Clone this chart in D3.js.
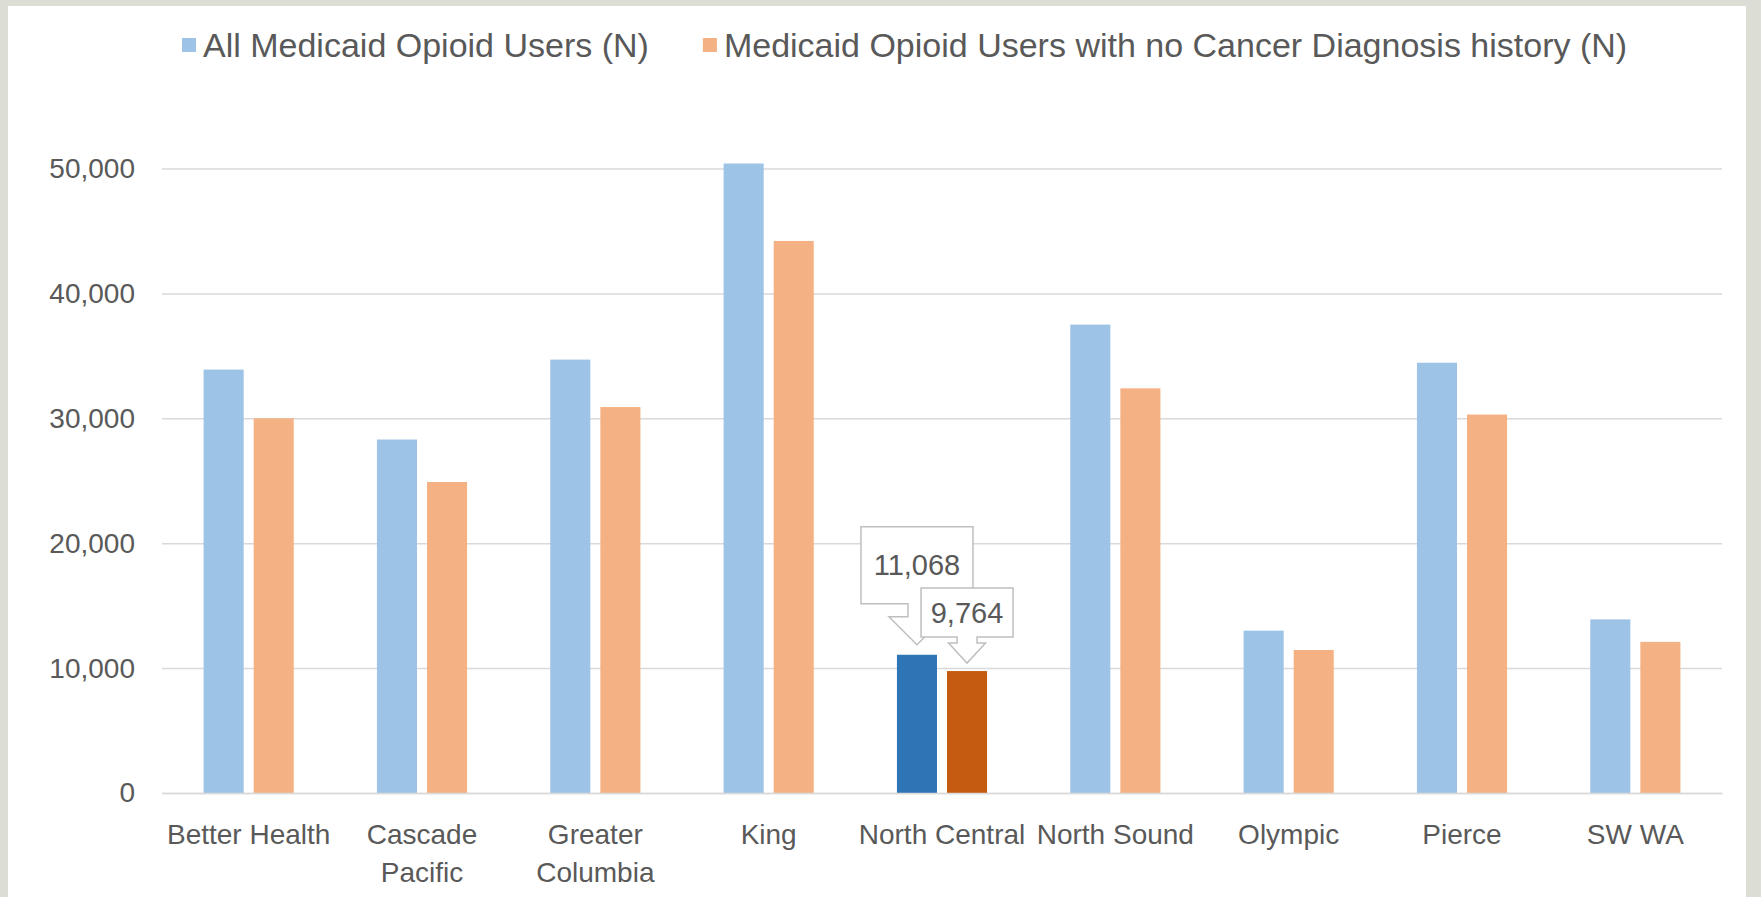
<!DOCTYPE html>
<html>
<head>
<meta charset="utf-8">
<script src="https://cdn.jsdelivr.net/npm/d3@7"></script>
<style>
  body { margin: 0; background: #dcddd4; }
  svg { display: block; }
  text { font-family: "Liberation Sans", Arial, sans-serif; fill: #595959; }
</style>
</head>
<body>
<svg id="chart"></svg>
<script>
// DATA
const categories = ["Better Health", "Cascade Pacific", "Greater Columbia", "King", "North Central", "North Sound", "Olympic", "Pierce", "SW WA"];
const seriesNames = ["All Medicaid Opioid Users (N)", "Medicaid Opioid Users with no Cancer Diagnosis history (N)"];
const allUsers = [33900, 28300, 34700, 50400, 11068, 37500, 13000, 34450, 13900];
const noCancerUsers = [30000, 24900, 30900, 44200, 9764, 32400, 11450, 30300, 12100];
const yTicks = [0, 10000, 20000, 30000, 40000, 50000];
const highlightCategory = "North Central";

const seriesValues = [allUsers, noCancerUsers];
const colors = ["#9dc3e6", "#f4b183"];
const highlightColors = ["#2e75b6", "#c55a11"];

// SIZES
const W = 1761, H = 897;
const plot = { left: 162, right: 1722, top: 168.5, bottom: 793 };

const svg = d3.select("#chart")
    .attr("width", W)
    .attr("height", H);

// white panel inside the grey frame
svg.append("rect")
    .attr("x", 8).attr("y", 6)
    .attr("width", 1738).attr("height", H - 6)
    .attr("fill", "#ffffff");

// SCALES
const x0 = d3.scaleBand()
    .domain(categories)
    .range([plot.left, plot.right])
    .paddingInner(0.48)
    .paddingOuter(0.24);

const x1 = d3.scaleBand()
    .domain([0, 1])
    .range([0, x0.bandwidth()])
    .paddingInner(0.2);

const y = d3.scaleLinear()
    .domain([0, 50000])
    .range([plot.bottom, plot.top]);

// Y AXIS + GRIDLINES
const yAxis = svg.append("g")
    .attr("transform", `translate(${plot.left},0)`)
    .call(d3.axisLeft(y)
        .tickValues(yTicks)
        .tickFormat(d3.format(","))
        .tickSize(-(plot.right - plot.left))
        .tickPadding(27));

yAxis.select(".domain").remove();
yAxis.selectAll(".tick line")
    .attr("stroke", "#d9d9d9")
    .attr("stroke-width", 1.5);
yAxis.selectAll(".tick text")
    .style("font-size", "28px")
    .attr("fill", "#595959");

// BARS
const groups = svg.append("g")
    .selectAll("g")
    .data(categories)
    .enter()
    .append("g")
    .attr("transform", d => `translate(${x0(d)},0)`);

groups.selectAll("rect")
    .data((c, i) => seriesValues.map((vals, s) => ({ cat: c, s: s, value: vals[i] })))
    .enter()
    .append("rect")
    .attr("x", d => x1(d.s))
    .attr("y", d => y(d.value))
    .attr("width", x1.bandwidth())
    .attr("height", d => y(0) - y(d.value))
    .attr("fill", d => d.cat === highlightCategory ? highlightColors[d.s] : colors[d.s]);

// X AXIS
const xAxis = svg.append("g")
    .attr("transform", `translate(0,${plot.bottom})`)
    .call(d3.axisBottom(x0).tickSize(0).tickPadding(31));

xAxis.select(".domain")
    .attr("stroke", "#d9d9d9")
    .attr("stroke-width", 1.5);
xAxis.selectAll(".tick text")
    .style("font-size", "28px")
    .attr("fill", "#595959")
    .call(wrap, x0.step());

function wrap(texts, maxWidth) {
    texts.each(function() {
        const text = d3.select(this);
        const words = text.text().split(/\s+/);
        const yPos = text.attr("y");
        const dy = parseFloat(text.attr("dy"));
        let line = [];
        let lineNo = 0;
        let tspan = text.text(null).append("tspan").attr("x", 0).attr("y", yPos).attr("dy", dy + "em");
        words.forEach(word => {
            line.push(word);
            tspan.text(line.join(" "));
            if (tspan.node().getComputedTextLength() > maxWidth && line.length > 1) {
                line.pop();
                tspan.text(line.join(" "));
                line = [word];
                lineNo++;
                tspan = text.append("tspan").attr("x", 0).attr("y", yPos)
                    .attr("dy", (lineNo * 1.35 + dy) + "em").text(word);
            }
        });
    });
}

// CALLOUTS FOR HIGHLIGHTED CATEGORY
const calloutStyle = [
    { boxW: 112, boxH: 77, shaftW: 9, shaftL: 13, headW: 28, headL: 28, gap: 10 },
    { boxW: 92, boxH: 49, shaftW: 10, shaftL: 6, headW: 18.5, headL: 20, gap: 8 }
];
const hi = categories.indexOf(highlightCategory);

calloutStyle.forEach((st, s) => {
    const value = seriesValues[s][hi];
    const cx = x0(highlightCategory) + x1(s) + x1.bandwidth() / 2;
    const tip = y(value) - st.gap;
    const bottom = tip - st.headL - st.shaftL;
    const top = bottom - st.boxH;
    const l = cx - st.boxW / 2, r = cx + st.boxW / 2;
    const pts = [
        [l, top], [r, top], [r, bottom],
        [cx + st.shaftW, bottom], [cx + st.shaftW, bottom + st.shaftL],
        [cx + st.headW, bottom + st.shaftL], [cx, tip],
        [cx - st.headW, bottom + st.shaftL], [cx - st.shaftW, bottom + st.shaftL],
        [cx - st.shaftW, bottom], [l, bottom]
    ];
    svg.append("path")
        .attr("d", d3.line()(pts) + "Z")
        .attr("fill", "#ffffff")
        .attr("stroke", "#bfbfbf")
        .attr("stroke-width", 1.5);
    svg.append("text")
        .attr("x", cx)
        .attr("y", top + st.boxH / 2)
        .attr("dy", "0.35em")
        .attr("text-anchor", "middle")
        .style("font-size", "29px")
        .text(d3.format(",")(value));
});

// LEGEND
const legendY = 45;
const legend = svg.append("g");
let lx = 182;
seriesNames.forEach((name, s) => {
    legend.append("rect")
        .attr("x", lx)
        .attr("y", legendY - 7)
        .attr("width", 14)
        .attr("height", 14)
        .attr("fill", colors[s]);
    const t = legend.append("text")
        .attr("x", lx + 21)
        .attr("y", legendY)
        .attr("dy", "0.35em")
        .style("font-size", "34px")
        .text(name);
    lx = lx + 21 + t.node().getComputedTextLength() + 54;
});
</script>
</body>
</html>
